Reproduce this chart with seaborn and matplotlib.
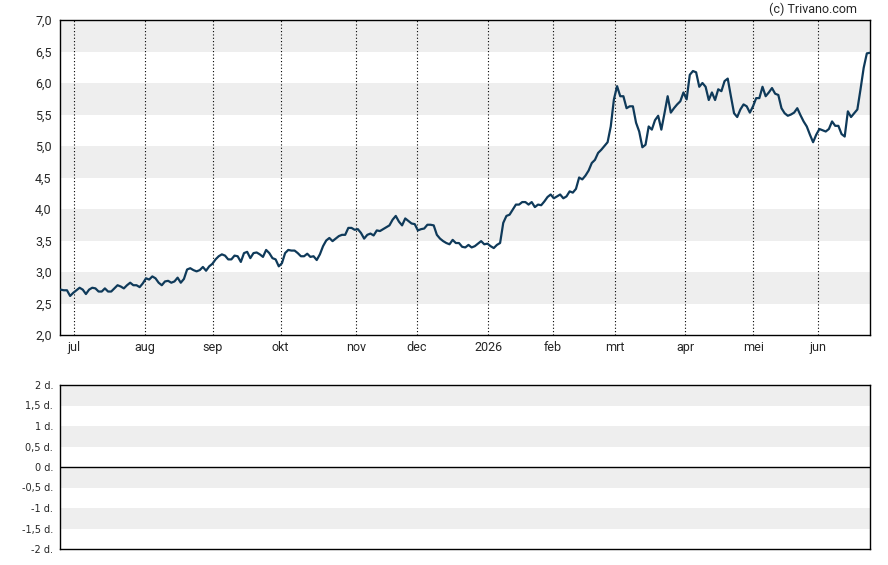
import numpy as np
import pandas as pd
import matplotlib
matplotlib.use('Agg')
import matplotlib.pyplot as plt
import seaborn as sns

koers_deel1 = [2.72, 2.71, 2.71, 2.62, 2.67, 2.71, 2.75, 2.72, 2.65, 2.72,
               2.75, 2.74, 2.69, 2.69, 2.74, 2.69, 2.69, 2.74, 2.79, 2.77,
               2.74, 2.79, 2.83, 2.79, 2.79, 2.76, 2.82, 2.90, 2.88, 2.93,
               2.90, 2.83, 2.79, 2.85, 2.86, 2.83, 2.85, 2.91, 2.83, 2.89,
               3.04, 3.06, 3.03, 3.01, 3.03, 3.08, 3.02, 3.09, 3.13, 3.20,
               3.25, 3.28, 3.26, 3.20, 3.20, 3.26, 3.25, 3.16, 3.30, 3.32,
               3.22, 3.30, 3.31, 3.28, 3.24, 3.35, 3.30, 3.22, 3.20, 3.09,
               3.14, 3.30, 3.35, 3.34, 3.34, 3.30, 3.25, 3.25, 3.29]
koers_deel2 = [3.24, 3.25, 3.19, 3.28, 3.41, 3.50, 3.54, 3.49, 3.53, 3.57,
               3.59, 3.59, 3.70, 3.70, 3.67, 3.68, 3.62, 3.53, 3.59, 3.61,
               3.58, 3.66, 3.65, 3.68, 3.71, 3.74, 3.83, 3.89, 3.80, 3.74,
               3.85, 3.81, 3.77, 3.76, 3.66, 3.68, 3.69, 3.75, 3.75, 3.74,
               3.59, 3.53, 3.49, 3.46, 3.44, 3.51, 3.46, 3.46, 3.40, 3.39,
               3.43, 3.39, 3.41, 3.45, 3.49, 3.44, 3.45, 3.41, 3.38, 3.43,
               3.46, 3.78, 3.89, 3.91, 3.99, 4.07, 4.07, 4.11, 4.11, 4.07,
               4.11, 4.03, 4.07, 4.06, 4.12, 4.19, 4.23, 4.17, 4.20, 4.23,
               4.17, 4.20, 4.28, 4.26, 4.32, 4.50, 4.47, 4.53, 4.61, 4.73]
koers_deel3 = [4.78, 4.89, 4.94, 5.00, 5.06, 5.31, 5.74, 5.95, 5.79, 5.79,
               5.60, 5.63, 5.63, 5.37, 5.23, 4.98, 5.02, 5.31, 5.26, 5.41,
               5.48, 5.26, 5.52, 5.79, 5.53, 5.60, 5.66, 5.71, 5.85, 5.74,
               6.13, 6.19, 6.17, 5.94, 6.00, 5.94, 5.73, 5.85, 5.73, 5.90,
               5.87, 6.03, 6.07, 5.79, 5.52, 5.46, 5.58, 5.66, 5.63, 5.53,
               5.63, 5.76, 5.76, 5.94, 5.79, 5.85, 5.92, 5.83, 5.81, 5.60,
               5.52, 5.48, 5.50, 5.53, 5.60, 5.49, 5.39, 5.31, 5.18, 5.06,
               5.18, 5.27, 5.25, 5.23, 5.27, 5.39, 5.32, 5.32, 5.19, 5.15,
               5.55, 5.46, 5.52, 5.58, 5.90, 6.24, 6.47, 6.48]
koers = koers_deel1 + koers_deel2 + koers_deel3

# maanden (positie = index handelsdag)
maand_labels = ['jul', 'aug', 'sep', 'okt', 'nov', 'dec', '2026', 'feb', 'mrt', 'apr', 'mei', 'jun']
maand_pos = [4.1, 26.6, 48.1, 69.6, 93.4, 112.6, 135.3, 155.6, 175.2, 197.6, 219.1, 239.6]

y_ticks = [2.0, 2.5, 3.0, 3.5, 4.0, 4.5, 5.0, 5.5, 6.0, 6.5, 7.0]
onder_ticks = [-2, -1.5, -1, -0.5, 0, 0.5, 1, 1.5, 2]

df = pd.DataFrame({'dag': np.arange(len(koers)), 'koers': koers})

sns.set_style('white')
plt.rcParams['font.family'] = ['Roboto', 'DejaVu Sans']

fig = plt.figure(figsize=(8.88, 5.65), dpi=100)
ax = fig.add_axes([60 / 888, 1 - 335 / 565, 810 / 888, 315 / 565])
ax2 = fig.add_axes([60 / 888, 1 - 549 / 565, 810 / 888, 164 / 565])

# grijze banden
for lo in [2.5, 3.5, 4.5, 5.5, 6.5]:
    ax.axhspan(lo, lo + 0.5, color='#eeeeee', lw=0, zorder=0)
for p in maand_pos:
    ax.axvline(p, color='black', lw=0.8, ls=(0, (1, 2)), zorder=1)

sns.lineplot(data=df, x='dag', y='koers', ax=ax, color='#0f3a5a', lw=1.6, zorder=3)

ax.set_xlim(-0.2, len(koers) - 1)
ax.set_ylim(2.0, 7.0)
ax.set_yticks(y_ticks)
ax.set_yticklabels([f'{v:.1f}'.replace('.', ',') for v in y_ticks])
ax.set_xticks(maand_pos)
ax.set_xticklabels(maand_labels)
ax.set_xlabel('')
ax.set_ylabel('')
ax.tick_params(axis='y', length=4, width=1, color='black', labelsize=9, pad=2)
ax.tick_params(axis='x', length=0, labelsize=9, pad=4)
for s in ax.spines.values():
    s.set_color('black')
    s.set_linewidth(1)

# onderste paneel
for lo in [-1.5, -0.5, 0.5, 1.5]:
    ax2.axhspan(lo, lo + 0.5, color='#eeeeee', lw=0, zorder=0)
ax2.axhline(0, color='black', lw=1)
ax2.set_xlim(0, 1)
ax2.set_ylim(-2, 2)
ax2.set_xticks([])
ax2.set_yticks(onder_ticks)
ax2.set_yticklabels([(f'{v:g}'.replace('.', ',') + ' d.') for v in onder_ticks],
                    family='DejaVu Sans')
ax2.tick_params(axis='y', length=4, width=1, color='black', labelsize=7, pad=1)
for s in ax2.spines.values():
    s.set_color('black')
    s.set_linewidth(1)

fig.text(857 / 888, 1 - 9 / 565, '(c) Trivano.com', ha='right', va='center', fontsize=9)

fig.savefig('out.png', dpi=100)
